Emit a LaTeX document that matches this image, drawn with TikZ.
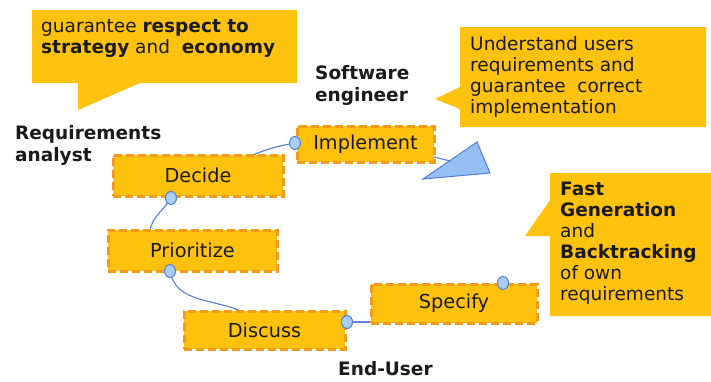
\documentclass[tikz,border=0pt]{standalone}
\usepackage{fontspec}
\setmainfont{DejaVu Sans}
\usetikzlibrary{shapes.geometric}
\definecolor{calloutyellow}{HTML}{FFC20E}
\definecolor{boxfill}{HTML}{FFC20C}
\definecolor{boxedge}{HTML}{F29A1C}
\definecolor{knobfill}{HTML}{A9CDF7}
\definecolor{knobedge}{HTML}{4F7FD1}
\definecolor{linkblue}{HTML}{5F86D8}
\definecolor{trifill}{HTML}{96C0F4}
\definecolor{inktext}{HTML}{1A1A1A}

\begin{document}
\begin{tikzpicture}[x=1pt,y=-1pt,
  every node/.style={text=inktext},
  txt/.style={font=\fontsize{18.5}{21}\selectfont},
  calltext/.style={txt, align=left, anchor=north west, inner sep=0pt},
  role/.style={font=\fontsize{18.5}{22}\selectfont\bfseries, align=left, anchor=north west, inner sep=0pt},
  callout/.style={fill=calloutyellow},
  stepbox/.style={font=\fontsize{19.3}{21}\selectfont, draw=boxedge, fill=boxfill, line width=3pt,
    dash pattern=on 8pt off 4pt, inner sep=0pt},
  knob/.style={ellipse, draw=knobedge, fill=knobfill, line width=1pt,
    minimum width=11pt, minimum height=13pt, inner sep=0pt},
  link/.style={draw=linkblue, line width=1.2pt}]

\useasboundingbox (0,0) rectangle (711,381);
\fill[white] (0,0) rectangle (711,381);

% speech bubbles
\fill[callout] (32,10) -- (297,10) -- (297,83) -- (140,83) -- (78,110) -- (78,83) -- (32,83) -- cycle;
\fill[callout] (460,27) -- (706,27) -- (706,127) -- (460,127) -- (460,109) -- (435,99) -- (460,87) -- cycle;
\fill[callout] (550,173) -- (711,173) -- (711,316) -- (550,316) -- (550,236) -- (525,236) -- (550,200) -- cycle;

\node[calltext] (note1) at (41,19) {guarantee \textbf{respect to}\\\textbf{strategy} and \ \textbf{economy}};
\node[calltext] (note2) at (470,36) {Understand users\\requirements and\\guarantee \ correct\\implementation};
\node[calltext] (note3) at (560,182) {\textbf{Fast}\\\textbf{Generation}\\and\\\textbf{Backtracking}\\of own\\requirements};

% roles
\node[role] (analyst) at (15,125) {Requirements\\analyst};
\node[role] (engineer) at (315,65) {Software\\engineer};
\node[role] (enduser) at (338,361) {End-User};

% connector end points on the boxes
\coordinate (dectop) at (250,156);
\coordinate (pritop) at (150,230);
\coordinate (distop) at (243,312);
\coordinate (implout) at (434,157);
\coordinate (tipin) at (454,162);

% connectors (drawn beneath the boxes)
\draw[link] (dectop) to[bend left=6] (295,143);
\draw[link] (171,198) to[out=240,in=78] (pritop);
\draw[link] (170,271) to[out=-80,in=155] (distop);

% steps
\node[stepbox, minimum width=137pt, minimum height=36pt] (impl) at (365.5,144) {Implement};
\node[stepbox, minimum width=170pt, minimum height=41pt] (dec) at (198,175.5) {Decide};
\node[stepbox, minimum width=169pt, minimum height=41pt] (pri) at (192.5,250.5) {Prioritize};
\node[stepbox, minimum width=161pt, minimum height=38pt] (dis) at (264.5,330) {Discuss};
\node[stepbox, minimum width=166pt, minimum height=39pt] (spec) at (454,303.5) {Specify};

% knobs
\node[knob] (k1) at (295,143) {};
\node[knob] (k2) at (171,198) {};
\node[knob] (k3) at (170,271) {};
\node[knob] (k4) at (347,322) {};
\node[knob] (k5) at (503,283) {};

\draw[link] (k4) -- (spec.west |- k4);
\draw[link] (implout) -- (tipin);

% pointer triangle
\filldraw[fill=trifill, draw=knobedge, line width=1pt] (477,142) -- (490,173) -- (423,179) -- cycle;
\end{tikzpicture}
\end{document}
